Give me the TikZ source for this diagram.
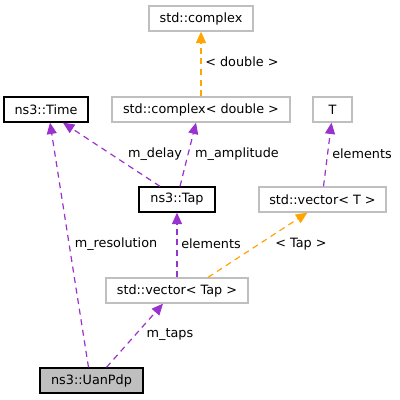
\documentclass[tikz,border=0pt]{standalone}
\usepackage{fontspec}
\setmainfont{DejaVu Sans}
\usetikzlibrary{arrows.meta,calc}
\definecolor{boxgray}{HTML}{BFBFBF}
\definecolor{edgepurple}{HTML}{9A32CD}
\definecolor{edgeorange}{HTML}{FFA500}
\begin{document}
\begin{tikzpicture}[x=0.75pt,y=-0.75pt,font=\fontsize{9.6}{11}\selectfont,
  box/.style={draw=boxgray,line width=1pt,inner sep=0pt,minimum height=18.75pt,fill=white},
  cls/.style={box,draw=black},
  focus/.style={cls,fill=boxgray},
  rel/.style={draw=edgepurple,line width=0.9pt,dash pattern=on 4.5pt off 3.5pt,-{Triangle[length=8.5pt,width=7.5pt,fill=edgepurple]}},
  tmpl/.style={draw=edgeorange,line width=0.9pt,dash pattern=on 4.5pt off 3.5pt,-{Triangle[length=8.5pt,width=7.5pt,fill=edgeorange]}},
  lbl/.style={inner sep=0pt,text=black}]
\useasboundingbox (0,0) rectangle (400,400);
\fill[white] (0,0) rectangle (400,400);
% nodes
\node[box,minimum width=78pt] (cplx) at (201,18.5) {std::complex};
\node[cls,minimum width=63pt] (time) at (46,109.5) {ns3::Time};
\node[box,minimum width=133.5pt] (cplxd) at (201,109.5) {std::complex< double >};
\node[box,minimum width=29.25pt] (T) at (332.5,109.5) {T};
\node[cls,minimum width=57pt] (tap) at (177,199.5) {ns3::Tap};
\node[box,minimum width=95.25pt] (vecT) at (322.5,199.5) {std::vector< T >};
\node[box,minimum width=106.5pt] (vecTap) at (177,290.5) {std::vector< Tap >};
\node[focus,minimum width=77.25pt] (uan) at (91.5,380.5) {ns3::UanPdp};
% edges
\draw[tmpl] (cplxd.north) -- (cplx.south);
\node[lbl,anchor=west] (l1) at (205,62) {< double >};
\draw[rel] ($(tap.north)+(-17,0)$) -- ($(time.south)+(17,0)$);
\node[lbl] (l2) at (155,154) {m\_delay};
\draw[rel] ($(tap.north)+(3,0)$) -- ($(cplxd.south)+(-5,0)$);
\node[lbl] (l3) at (237,154) {m\_amplitude};
\draw[rel] ($(vecT.north)+(1,0)$) -- ($(T.south)+(-1,0)$);
\node[lbl] (l4) at (362,154) {elements};
\draw[rel] (vecTap.north) -- (tap.south);
\node[lbl] (l5) at (211,244) {elements};
\draw[tmpl] ($(vecTap.north)+(31,0)$) -- ($(vecT.south west)+(49,0)$);
\node[lbl] (l6) at (301,244) {< Tap >};
\draw[rel] ($(uan.north)+(-3,0)$) -- ($(time.south)+(4,0)$);
\node[lbl] (l7) at (116,244) {m\_resolution};
\draw[rel] ($(uan.north)+(15,0)$) -- ($(vecTap.south)+(-14,0)$);
\node[lbl] (l8) at (170,335) {m\_taps};
\end{tikzpicture}
\end{document}
